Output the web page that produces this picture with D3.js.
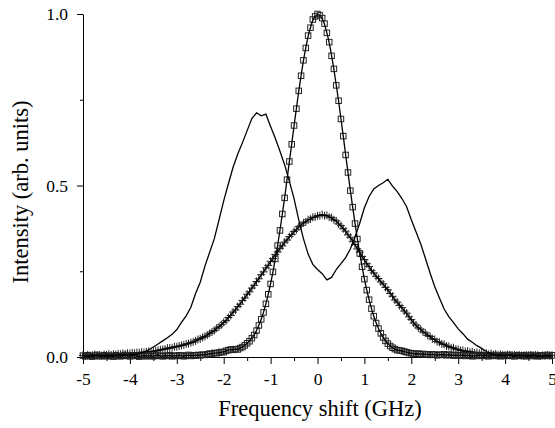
<!DOCTYPE html>
<html lang="en">
    <head>
        <meta charset="UTF-8" />
        <title>Frequency shift spectra</title>
        <script src="https://d3js.org/d3.v7.min.js"></script>
        <style>
            body {
                margin: 0;
                padding: 0;
                background: #fff;
            }
            svg text {
                font-family: 'Liberation Serif', 'Times New Roman', serif;
                fill: #000;
            }
            .axis path,
            .axis line {
                stroke: #000;
                stroke-width: 1px;
            }
            .axis text {
                font-size: 17.5px;
            }
            .axis-title {
                font-size: 22.5px;
            }
            .line {
                fill: none;
                stroke: #000;
            }
        </style>
    </head>
    <body>
        <svg id="chart" width="555" height="428"></svg>

        <script>
            // sampling grids (GHz)
            const freqFine = d3.range(-100, 101).map((i) => i / 20);   // 0.05 GHz step, markers
            const freqCoarse = d3.range(-50, 51).map((i) => i / 10);   // 0.1 GHz step, solid trace

            const xTicks = [-5, -4, -3, -2, -1, 0, 1, 2, 3, 4, 5];
            const xMinor = [-4.5, -3.5, -2.5, -1.5, -0.5, 0.5, 1.5, 2.5, 3.5, 4.5];
            const yTicks = [0, 0.5, 1];
            const yMinor = [0.25, 0.75];

            // double peaked trace (solid line, no markers)
            const doublet = [
                0.004, 0.002, 0.005, 0.003, 0.004, 0.002, 0.005, 0.004, 0.006, 0.005,
                0.007, 0.007, 0.010, 0.014, 0.021, 0.029, 0.038, 0.047, 0.056, 0.066,
                0.080, 0.101, 0.120, 0.145, 0.185, 0.218, 0.265, 0.305, 0.345, 0.400,
                0.455, 0.505, 0.553, 0.592, 0.625, 0.660, 0.695, 0.712, 0.703, 0.708,
                0.672, 0.638, 0.600, 0.560, 0.512, 0.462, 0.400, 0.345, 0.300, 0.270,
                0.255, 0.243, 0.225, 0.232, 0.255, 0.272, 0.290, 0.315, 0.350, 0.390,
                0.435, 0.468, 0.490, 0.500, 0.508, 0.518, 0.498, 0.482, 0.462, 0.438,
                0.400, 0.365, 0.330, 0.288, 0.245, 0.205, 0.172, 0.140, 0.118, 0.100,
                0.082, 0.068, 0.052, 0.043, 0.033, 0.025, 0.016, 0.010, 0.006, 0.005,
                0.004, 0.006, 0.003, 0.005, 0.004, 0.002, 0.005, 0.003, 0.004, 0.002, 0.003,
            ];

            // narrow peak (squares)
            const narrow = [
                0.004, 0.002, 0.005, 0.003, 0.001, 0.004, 0.006, 0.002, 0.003, 0.005,
                0.002, 0.004, 0.003, 0.001, 0.005, 0.003, 0.002, 0.004, 0.006, 0.003,
                0.002, 0.005, 0.003, 0.004, 0.001, 0.003, 0.005, 0.002, 0.004, 0.003,
                0.002, 0.004, 0.006, 0.003, 0.002, 0.004, 0.003, 0.005, 0.002, 0.004,
                0.003, 0.005, 0.004, 0.002, 0.004, 0.006, 0.003, 0.005, 0.004, 0.006,
                0.005, 0.007, 0.006, 0.008, 0.010, 0.009, 0.012, 0.011, 0.013, 0.015,
                0.014, 0.018, 0.020, 0.022, 0.021, 0.023, 0.022, 0.026, 0.029, 0.034,
                0.040, 0.046, 0.055, 0.064, 0.077, 0.092, 0.110, 0.130, 0.155, 0.183,
                0.213, 0.248, 0.286, 0.325, 0.369, 0.417, 0.464, 0.517, 0.570, 0.620,
                0.675, 0.724, 0.776, 0.820, 0.865, 0.901, 0.937, 0.960, 0.984, 0.993,
                1.000, 0.996, 0.988, 0.972, 0.945, 0.918, 0.878, 0.840, 0.792, 0.747,
                0.694, 0.644, 0.589, 0.538, 0.485, 0.437, 0.389, 0.344, 0.302, 0.263,
                0.227, 0.195, 0.167, 0.141, 0.119, 0.099, 0.083, 0.069, 0.057, 0.047,
                0.039, 0.032, 0.027, 0.023, 0.020, 0.019, 0.018, 0.016, 0.014, 0.012,
                0.011, 0.010, 0.009, 0.010, 0.008, 0.009, 0.007, 0.008, 0.006, 0.008,
                0.007, 0.005, 0.007, 0.006, 0.008, 0.005, 0.007, 0.006, 0.004, 0.006,
                0.005, 0.004, 0.006, 0.003, 0.005, 0.004, 0.002, 0.005, 0.003, 0.006,
                0.004, 0.003, 0.005, 0.002, 0.004, 0.006, 0.003, 0.004, 0.002, 0.005,
                0.003, 0.004, 0.006, 0.003, 0.002, 0.005, 0.004, 0.003, 0.005, 0.002,
                0.004, 0.006, 0.003, 0.004, 0.002, 0.005, 0.003, 0.004, 0.006, 0.003, 0.005,
            ];

            // broad peak (crosses)
            const broad = [
                0.005, 0.003, 0.006, 0.004, 0.005, 0.007, 0.005, 0.006, 0.004, 0.007,
                0.006, 0.008, 0.006, 0.008, 0.007, 0.009, 0.008, 0.010, 0.009, 0.011,
                0.010, 0.012, 0.011, 0.013, 0.012, 0.014, 0.013, 0.015, 0.016, 0.015,
                0.017, 0.018, 0.019, 0.021, 0.022, 0.023, 0.026, 0.026, 0.027, 0.030,
                0.030, 0.032, 0.034, 0.035, 0.038, 0.039, 0.042, 0.044, 0.047, 0.051,
                0.053, 0.057, 0.060, 0.064, 0.069, 0.073, 0.077, 0.084, 0.088, 0.094,
                0.101, 0.106, 0.115, 0.121, 0.131, 0.137, 0.147, 0.154, 0.165, 0.172,
                0.183, 0.190, 0.201, 0.209, 0.220, 0.228, 0.240, 0.248, 0.260, 0.267,
                0.279, 0.287, 0.299, 0.306, 0.317, 0.324, 0.335, 0.341, 0.351, 0.357,
                0.366, 0.371, 0.380, 0.384, 0.391, 0.394, 0.400, 0.402, 0.407, 0.408,
                0.412, 0.412, 0.415, 0.412, 0.413, 0.408, 0.406, 0.400, 0.397, 0.388,
                0.383, 0.374, 0.367, 0.356, 0.349, 0.336, 0.328, 0.315, 0.306, 0.293,
                0.284, 0.272, 0.264, 0.252, 0.245, 0.235, 0.229, 0.219, 0.213, 0.203,
                0.196, 0.185, 0.177, 0.166, 0.160, 0.150, 0.144, 0.134, 0.128, 0.117,
                0.109, 0.099, 0.093, 0.085, 0.081, 0.073, 0.070, 0.063, 0.060, 0.053,
                0.051, 0.045, 0.043, 0.038, 0.037, 0.032, 0.031, 0.027, 0.027, 0.023,
                0.022, 0.019, 0.019, 0.016, 0.017, 0.014, 0.015, 0.012, 0.013, 0.011,
                0.012, 0.009, 0.011, 0.008, 0.010, 0.007, 0.009, 0.006, 0.008, 0.006,
                0.006, 0.007, 0.006, 0.005, 0.006, 0.005, 0.006, 0.004, 0.005, 0.006,
                0.004, 0.005, 0.004, 0.006, 0.005, 0.003, 0.005, 0.004, 0.006, 0.004, 0.005,
            ];

            const svg = d3.select('#chart');
            const margin = { top: 14, right: 3, bottom: 71, left: 83 };
            const width = +svg.attr('width') - margin.left - margin.right;
            const height = +svg.attr('height') - margin.top - margin.bottom;

            const x = d3.scaleLinear().domain([-5, 5]).range([0, width]);
            const y = d3.scaleLinear().domain([0, 1]).range([height, 0]);

            const g = svg.append('g').attr('transform', `translate(${margin.left},${margin.top})`);

            // axes
            g.append('g')
                .attr('class', 'axis')
                .attr('transform', `translate(0,${height})`)
                .call(d3.axisBottom(x).tickValues(xMinor).tickSize(4).tickFormat(''))
                .select('.domain')
                .remove();
            g.append('g')
                .attr('class', 'axis')
                .attr('transform', `translate(0,${height})`)
                .call(d3.axisBottom(x).tickValues(xTicks).tickSize(7).tickSizeOuter(0).tickPadding(9).tickFormat((d) => String(d)));

            g.append('g')
                .attr('class', 'axis')
                .call(d3.axisLeft(y).tickValues(yMinor).tickSize(3).tickFormat(''))
                .select('.domain')
                .remove();
            g.append('g')
                .attr('class', 'axis')
                .call(d3.axisLeft(y).tickValues(yTicks).tickSize(6).tickSizeOuter(0).tickPadding(9).tickFormat(d3.format('.1f')));

            const narrowData = freqFine.map((f, i) => ({ f, v: narrow[i] }));
            const broadData = freqFine.map((f, i) => ({ f, v: broad[i] }));
            const doubletData = freqCoarse.map((f, i) => ({ f, v: doublet[i] }));

            const smooth = d3
                .line()
                .curve(d3.curveBasis)
                .x((d) => x(d.f))
                .y((d) => y(d.v));
            const raw = d3
                .line()
                .x((d) => x(d.f))
                .y((d) => y(d.v));

            // crosses
            g.append('g')
                .selectAll('path')
                .data(broadData)
                .join('path')
                .attr('transform', (d) => `translate(${x(d.f)},${y(d.v)})`)
                .attr('d', 'M-4,0H4M0,-4V4')
                .attr('stroke', '#222')
                .attr('stroke-width', 1);
            g.append('path').attr('class', 'line').attr('stroke-width', 1.4).attr('d', smooth(broadData));

            // squares
            g.append('g')
                .selectAll('rect')
                .data(narrowData)
                .join('rect')
                .attr('x', (d) => x(d.f) - 2.75)
                .attr('y', (d) => y(d.v) - 2.75)
                .attr('width', 5.5)
                .attr('height', 5.5)
                .attr('fill', 'none')
                .attr('stroke', '#222')
                .attr('stroke-width', 1);
            g.append('path').attr('class', 'line').attr('stroke-width', 1.3).attr('d', smooth(narrowData));

            // double peak trace
            g.append('path').attr('class', 'line').attr('stroke-width', 1.3).attr('d', raw(doubletData));

            // axis titles
            svg.append('text')
                .attr('class', 'axis-title')
                .attr('x', 320)
                .attr('y', 416)
                .attr('text-anchor', 'middle')
                .text('Frequency shift (GHz)');

            svg.append('text')
                .attr('class', 'axis-title')
                .attr('transform', 'translate(28,192) rotate(-90)')
                .attr('text-anchor', 'middle')
                .text('Intensity (arb. units)');
        </script>
    </body>
</html>
